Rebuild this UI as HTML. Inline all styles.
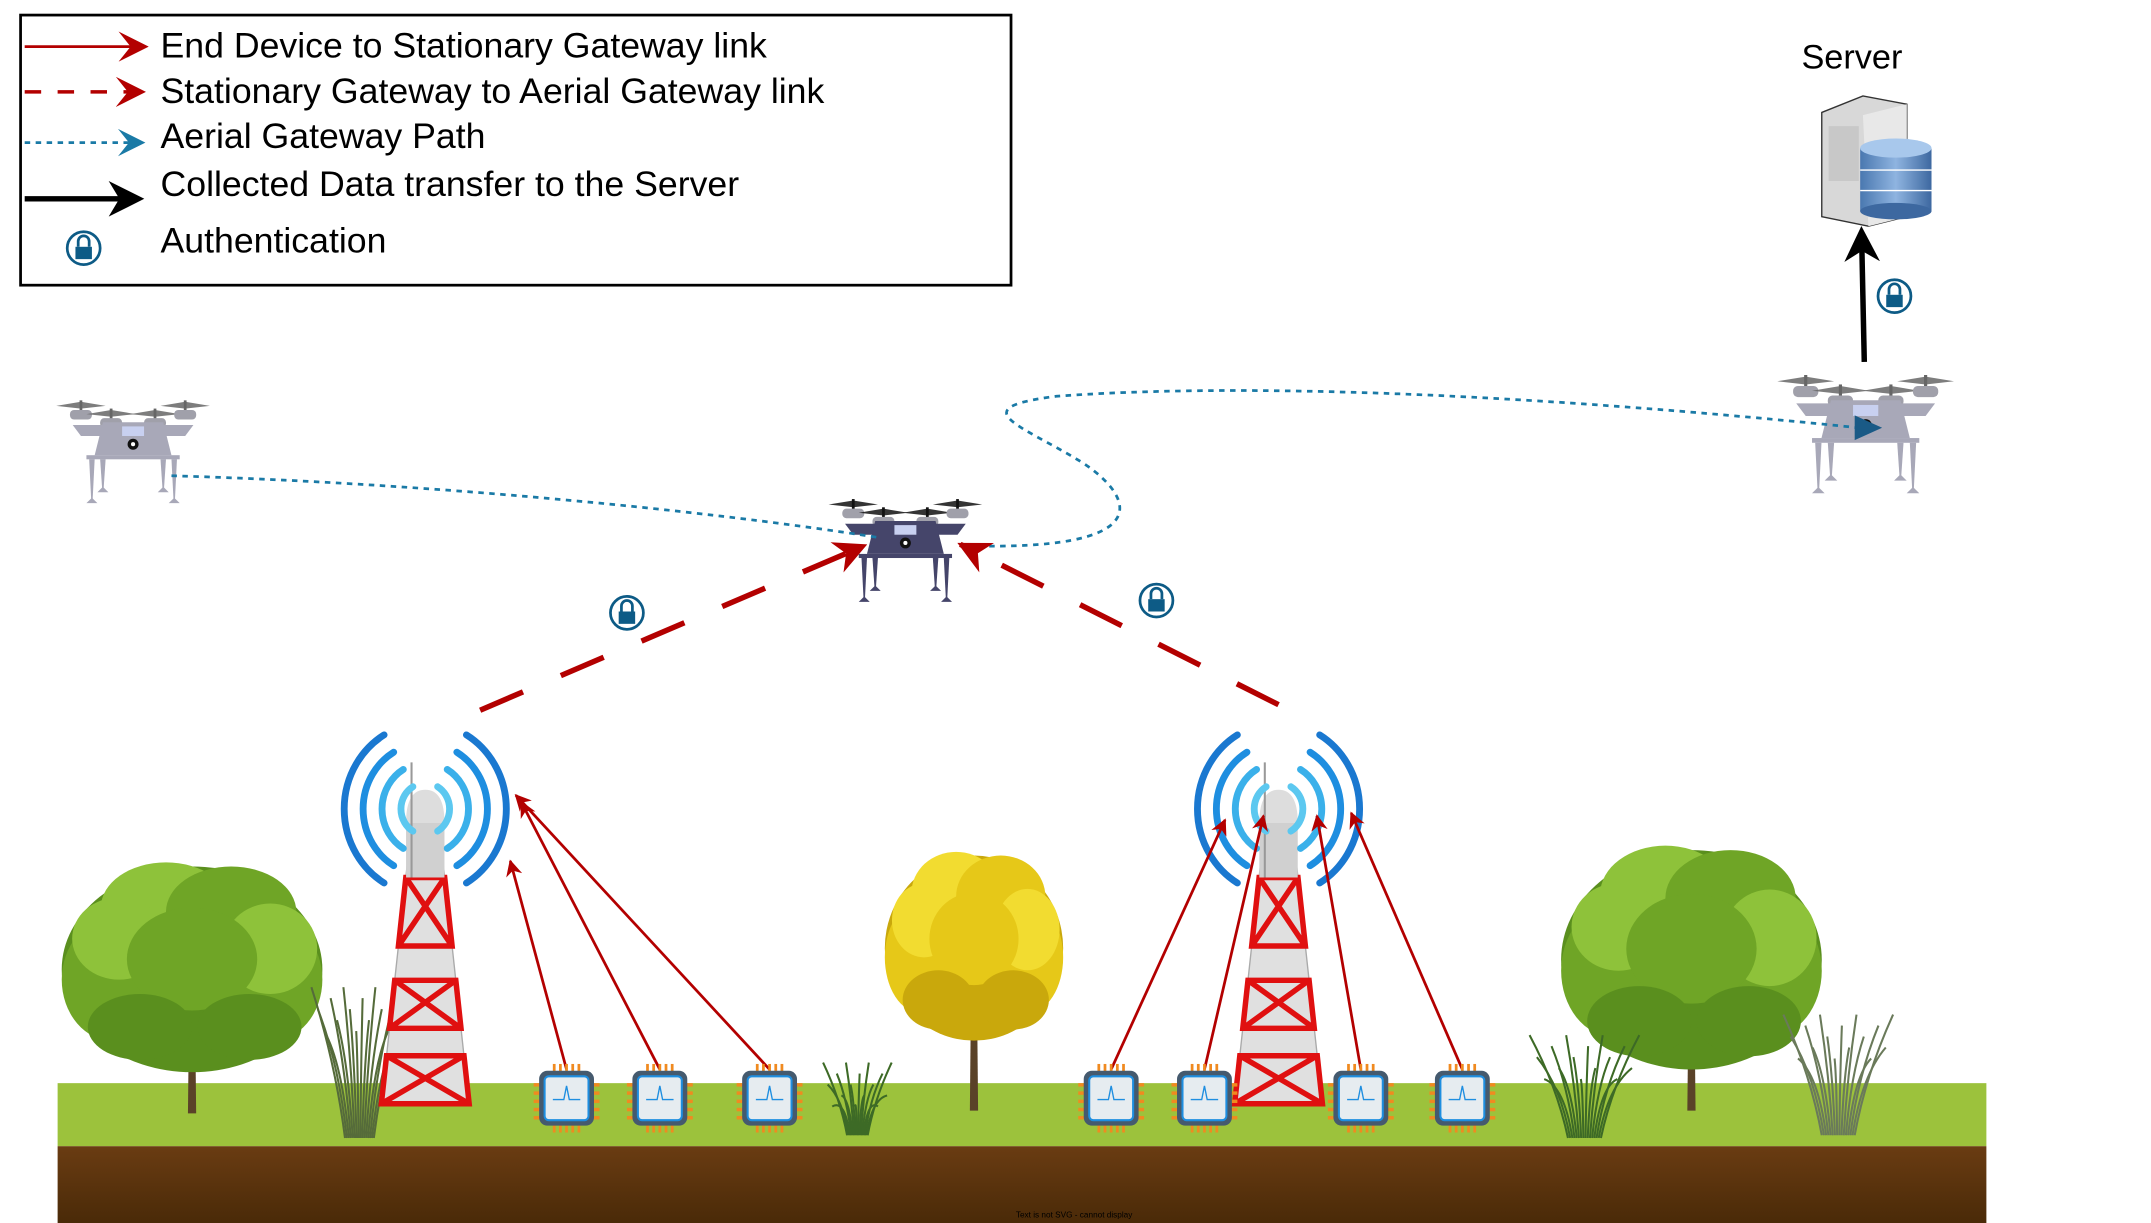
<!DOCTYPE html>
<html><head><meta charset="utf-8"><style>
html,body{margin:0;padding:0;background:#fff;}
svg{display:block;}
text{font-family:"Liberation Sans",sans-serif;}
</style></head><body>
<svg id="s" width="2151" height="1223" viewBox="0 0 1568 892" preserveAspectRatio="none" xmlns="http://www.w3.org/2000/svg">
<defs>
<marker id="ar" viewBox="0 0 10 10" refX="9" refY="5" markerWidth="6" markerHeight="6" orient="auto"><path d="M0,0 L10,5 L0,10 L3,5z" fill="#b30000"/></marker>
<marker id="arLg" viewBox="0 0 10 10" refX="8" refY="5" markerWidth="22" markerHeight="22" orient="auto" markerUnits="userSpaceOnUse"><path d="M0,0 L10,5 L0,10 L4,5z" fill="#b30000"/></marker>
<marker id="arB" viewBox="0 0 10 10" refX="8" refY="5" markerWidth="20" markerHeight="20" orient="auto" markerUnits="userSpaceOnUse"><path d="M0,0 L10,5 L0,10 L4,5z" fill="#1a7aa6"/></marker>
<marker id="arK" viewBox="0 0 10 10" refX="8" refY="5" markerWidth="26" markerHeight="26" orient="auto" markerUnits="userSpaceOnUse"><path d="M0,0 L10,5 L0,10 L3,5z" fill="#000"/></marker>
<linearGradient id="db" x1="0" x2="1"><stop offset="0" stop-color="#4a78b0"/><stop offset="0.5" stop-color="#8fb4e0"/><stop offset="1" stop-color="#3d68a0"/></linearGradient>
<linearGradient id="soil" x1="0" y1="0" x2="0" y2="1"><stop offset="0" stop-color="#6a3c12"/><stop offset="1" stop-color="#4a2a08"/></linearGradient>
</defs>

<g>
<rect x="15" y="11" width="722" height="197" fill="#fff" stroke="#000" stroke-width="2"/>
<g>
<line x1="18" y1="34" x2="104" y2="34" stroke="#b30000" stroke-width="2" marker-end="url(#arLg)"/>
<text x="117" y="42" font-size="26">End Device to Stationary Gateway link</text></g>
<g>
<line x1="18" y1="67" x2="102" y2="67" stroke="#b30000" stroke-width="2.5" stroke-dasharray="12,12" marker-end="url(#arLg)"/>
<text x="117" y="75" font-size="26">Stationary Gateway to Aerial Gateway link</text></g>
<g>
<line x1="18" y1="104" x2="102" y2="104" stroke="#1a7aa6" stroke-width="2" stroke-dasharray="4,4" marker-end="url(#arB)"/>
<text x="117" y="108" font-size="26">Aerial Gateway Path</text></g>
<g>
<line x1="18" y1="145" x2="100" y2="145" stroke="#000" stroke-width="4" marker-end="url(#arK)"/>
<text x="117" y="143" font-size="26">Collected Data transfer to the Server</text></g>
<g>
<text x="117" y="184" font-size="26">Authentication</text></g>
</g>

<rect x="42" y="790" width="1406" height="46" fill="#9cc23c"/>
<rect x="42" y="836" width="1406" height="56" fill="url(#soil)"/>
<text x="783" y="888" font-size="6" font-family="Liberation Serif" text-anchor="middle" fill="#000">Text is not SVG - cannot display</text>

<g id="scene"></g>

<g>
<path d="M1328,82 L1358,70 L1390,76 L1390,158 L1362,165 L1328,158z" fill="#d8d8d8" stroke="#333" stroke-width="1"/>
<path d="M1358,84 L1390,76 L1390,158 L1362,165z" fill="#e8e8e8"/>
<rect x="1333" y="92" width="22" height="40" fill="#c8c8c8"/>
<rect x="1356" y="108" width="52" height="46" fill="url(#db)"/>
<ellipse cx="1382" cy="154" rx="26" ry="6" fill="#3d68a0"/>
<ellipse cx="1382" cy="108" rx="26" ry="7" fill="#a8c8ec"/>
<line x1="1356" y1="124" x2="1408" y2="124" stroke="#fff" stroke-width="1"/>
<line x1="1356" y1="139" x2="1408" y2="139" stroke="#fff" stroke-width="1"/>
</g>
<text x="1350" y="50" font-size="25" text-anchor="middle">Server</text>
<line x1="1359" y1="264" x2="1357" y2="170" stroke="#000" stroke-width="4" marker-end="url(#arK)"/>

<path d="M125,347 C300,352 500,370 640,392 M705,398 C840,402 830,365 790,338 C745,310 700,298 770,289 C950,276 1200,296 1355,312" fill="none" stroke="#1a7aa6" stroke-width="2" stroke-dasharray="4,4"/>

<line x1="350" y1="518" x2="630" y2="398" stroke="#b30000" stroke-width="4" stroke-dasharray="34,30" marker-end="url(#ar)"/>
<line x1="932" y1="514" x2="700" y2="397" stroke="#b30000" stroke-width="4" stroke-dasharray="34,30" marker-end="url(#ar)"/>
<g id="top"></g>
</svg>
<script>
const NS='http://www.w3.org/2000/svg';
const sc=document.getElementById('scene');
const topL=document.getElementById('top');
function mk(tag,at,parent){const e=document.createElementNS(NS,tag);for(const k in at)e.setAttribute(k,at[k]);(parent||sc).appendChild(e);return e;}
function grp(parent){return mk('g',{},parent);}

function tree(cx,top,bottom,w,h,c1,c2,c3){
 const g=grp();
 
 
 mk('path',{d:`M${cx-2},${top+h*0.6} L${cx+2},${top+h*0.6} L${cx+3},${bottom} L${cx-3},${bottom}z`,fill:'#5a4228'},g);
 const blobs=[[0,0.5,0.5,0.5,c2],[-0.3,0.55,0.2,0.3,c1],[0.3,0.55,0.2,0.3,c1],[-0.1,0.2,0.25,0.22,c3],[0.15,0.22,0.25,0.22,c1],[-0.28,0.35,0.18,0.2,c3],[0.3,0.4,0.18,0.22,c3],[0,0.45,0.25,0.25,c1],[-0.2,0.78,0.2,0.16,c2],[0.22,0.78,0.2,0.16,c2]];
 blobs.forEach(b=>mk('ellipse',{cx:cx+b[0]*w,cy:top+b[1]*h,rx:b[2]*w,ry:b[3]*h,fill:b[4]},g));
}
tree(140,632,812,190,150,'#6fa526','#5a8f1e','#8ec23a');
tree(1233,620,810,190,160,'#6fa526','#5a8f1e','#8ec23a');
tree(710,624,810,130,135,'#e6c818','#c9a80c','#f2dc30');

function grass(cx,top,bottom,w,col){
 const g=grp();
 
 
 for(let i=0;i<16;i++){const x=cx-w/2+w*i/15;mk('path',{d:`M${cx-w*0.15+w*0.3*i/15},${bottom} Q${(x+cx)/2},${(top+bottom)/2} ${x},${top+((i*7)%5)*8}`,stroke:col,'stroke-width':1.5,fill:'none'},g);}
}
grass(262,720,830,70,'#556b3a');
grass(625,775,828,50,'#3d6a26');
grass(1155,755,830,80,'#3d6a26');
grass(1340,740,828,80,'#6a7a5a');

function tower(cx){
 const g=grp();
 
 
 mk('path',{d:`M${cx-12},620 L${cx+12},620 L${cx+32},805 L${cx-32},805z`,fill:'#e0e0e0',stroke:'#aaa'},g);
 [[640,690],[715,750],[770,805]].forEach(s=>{
  const t=(s[0]-620)/185, b=(s[1]-620)/185;
  const xl1=cx-12-20*t,xr1=cx+12+20*t,xl2=cx-12-20*b,xr2=cx+12+20*b;
  mk('path',{d:`M${xl1},${s[0]} L${xr1},${s[0]} L${xr2},${s[1]} L${xl2},${s[1]}z M${xl1},${s[0]} L${xr2},${s[1]} M${xr1},${s[0]} L${xl2},${s[1]}`,fill:'none',stroke:'#e01010','stroke-width':4},g);
 });
 mk('rect',{x:cx-14,y:600,width:28,height:40,fill:'#d0d0d0'},g);
 mk('path',{d:`M${cx-14},600 Q${cx-14},576 ${cx},576 Q${cx+14},576 ${cx+14},600z`,fill:'#ddd'},g);
 mk('line',{x1:cx-10,y1:556,x2:cx-10,y2:640,stroke:'#999','stroke-width':1.5},g);
 const arcs=[[18,'#5cc8f0'],[32,'#3ab0ea'],[46,'#1e8ee0'],[60,'#1a78d0']];
 arcs.forEach(a=>{
  const r=a[0];
  mk('path',{d:`M${cx-r*0.5},${590-r*0.9} A${r},${r*1.05} 0 0 0 ${cx-r*0.5},${590+r*0.9}`,fill:'none',stroke:a[1],'stroke-width':5,'stroke-linecap':'round'},g);
  mk('path',{d:`M${cx+r*0.5},${590-r*0.9} A${r},${r*1.05} 0 0 1 ${cx+r*0.5},${590+r*0.9}`,fill:'none',stroke:a[1],'stroke-width':5,'stroke-linecap':'round'},g);
 });
}
tower(310);tower(932);

const chipX=[413,481,561,810,878,992,1066];
const linkTargets=[[372,628],[380,585],[376,580],[893,598],[921,595],[960,595],[985,593]];
chipX.forEach((x,i)=>{
 const l=mk('line',{x1:x,y1:780,x2:linkTargets[i][0],y2:linkTargets[i][1],stroke:'#b30000','stroke-width':2,'marker-end':'url(#ar)'});
 
 
});
chipX.forEach(x=>{
 const g=grp();
 
 
 for(let k=0;k<5;k++){mk('rect',{x:x-10+k*4.5,y:776,width:2,height:6,fill:'#f08a20'},g);mk('rect',{x:x-10+k*4.5,y:820,width:2,height:6,fill:'#f08a20'},g);mk('rect',{x:x-24,y:790+k*6,width:5,height:2.5,fill:'#f08a20'},g);mk('rect',{x:x+19,y:790+k*6,width:5,height:2.5,fill:'#f08a20'},g);}
 mk('rect',{x:x-20,y:781,width:40,height:40,rx:6,fill:'#455a6e'},g);
 mk('rect',{x:x-16,y:785,width:32,height:32,rx:3,fill:'#e6ecf0',stroke:'#1e8ee0','stroke-width':1.5},g);
 mk('path',{d:`M${x-10},802 L${x-2},802 L${x},792 L${x+2},802 L${x+10},802`,stroke:'#1e8ee0',fill:'none','stroke-width':1},g);
});

function drone(cx,cy,s,body,dark,nm){
 const g=grp();
 
 
 g.setAttribute('transform',`translate(${cx},${cy}) scale(${s})`);
 [-38,-16,16,38].forEach((px,i)=>{const py=(i==0||i==3)?-26:-20;
  mk('path',{d:`M${px-18},${py} L${px},${py-3} L${px+18},${py} L${px},${py+2}z`,fill:dark,opacity:0.85},g);
  mk('line',{x1:px,y1:py-4,x2:px,y2:py+4,stroke:dark,'stroke-width':2},g);
  mk('rect',{x:px-8,y:py+3,width:16,height:7,rx:3,fill:'#a0a0aa'},g);});
 mk('path',{d:'M-44,-12 L44,-12 L38,-4 L-38,-4z',fill:body},g);
 mk('path',{d:'M-22,-14 L22,-14 L28,10 L-28,10z',fill:body},g);
 mk('rect',{x:-8,y:-11,width:16,height:7,fill:'#c8d0f0'},g);
 mk('circle',{cx:0,cy:2,r:4,fill:'#111'},g);mk('circle',{cx:0,cy:2,r:1.5,fill:'#fff'},g);
 mk('rect',{x:-34,y:10,width:68,height:3,fill:body},g);
 [-30,-22,22,30].forEach((lx,i)=>{const ll=(i==0||i==3)?30:22;mk('path',{d:`M${lx-2},13 L${lx+2},13 L${lx+0.5},${13+ll} L${lx-0.5},${13+ll}z`,fill:body},g);mk('path',{d:`M${lx-4},${15+ll} L${lx},${11+ll} L${lx+4},${15+ll}z`,fill:body},g);});
}
drone(97,322,1.0,'#a8a8b8','#666','drone-left');
drone(660,394,1.0,'#45456a','#111','drone-center');
drone(1360,308,1.15,'#a8a8b8','#666','drone-right');

function lock(x,y,nm){
 const g=grp(topL);
 
 
 mk('circle',{cx:x,cy:y,r:12,fill:'#fff',stroke:'#0d5b86','stroke-width':2},g);
 mk('path',{d:`M${x-4},${y-1} L${x-4},${y-5} A4,4 0 0 1 ${x+4},${y-5} L${x+4},${y-1}`,fill:'none',stroke:'#0d5b86','stroke-width':2},g);
 mk('rect',{x:x-6,y:y-1,width:12,height:9,fill:'#0d5b86'},g);
}
lock(61,181,'legend-lock-icon');
lock(457,447,'lock-left-link');
lock(843,438,'lock-right-link');
lock(1381,216,'lock-server-link');
const tip=mk('path',{d:'M1352,303 L1372,312 L1352,321z',fill:'#1a5a86'},topL);


</script>
</body></html>
